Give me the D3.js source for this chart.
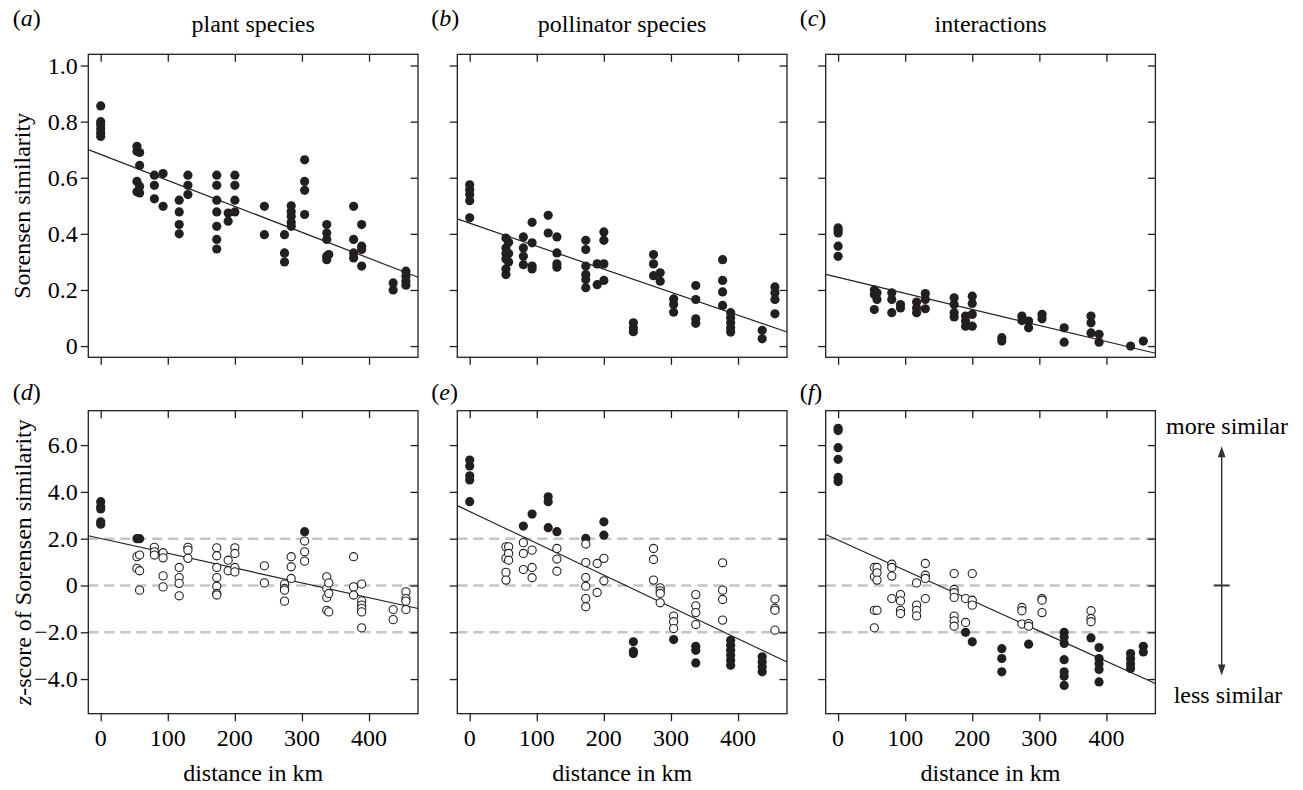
<!DOCTYPE html>
<html>
<head>
<meta charset="utf-8">
<script src="https://cdn.jsdelivr.net/npm/d3@7"></script>
<style>
body { margin: 0; background: #fff; }
</style>
</head>
<body>
<div class="chart"></div>
<script>
var width = 1303;
var height = 790;

// [distance in km, value]
var plantSim = [[0,0.856],[0,0.80],[0,0.79],[0,0.775],[0,0.76],[0,0.747],
	[54,0.712],[54,0.694],[54,0.587],[54,0.55],[58,0.69],[58,0.644],[58,0.569],[58,0.546],
	[80,0.609],[80,0.573],[80,0.525],[93,0.615],[93,0.498],
	[117,0.52],[117,0.478],[117,0.433],[117,0.40],[130,0.609],[130,0.573],[130,0.54],
	[173,0.609],[173,0.573],[173,0.52],[173,0.478],[173,0.427],[173,0.38],[173,0.346],
	[190,0.474],[190,0.445],[200,0.609],[200,0.573],[200,0.52],[200,0.478],
	[244,0.498],[244,0.397],[274,0.397],[274,0.332],[274,0.30],
	[284,0.50],[284,0.48],[284,0.463],[284,0.441],[284,0.427],
	[304,0.664],[304,0.587],[304,0.555],[304,0.469],
	[337,0.433],[337,0.403],[337,0.38],[337,0.32],[337,0.308],[340,0.326],
	[377,0.498],[377,0.38],[377,0.332],[377,0.314],[389,0.433],[389,0.356],[389,0.344],[389,0.285],
	[436,0.225],[436,0.20],[455,0.267],[455,0.249],[455,0.231],[455,0.217]];

var pollSim = [[0,0.575],[0,0.557],[0,0.54],[0,0.518],[0,0.457],
	[54,0.385],[54,0.35],[54,0.33],[54,0.31],[54,0.275],[54,0.255],[58,0.37],[58,0.33],[58,0.30],
	[80,0.389],[80,0.35],[80,0.32],[80,0.29],[93,0.441],[93,0.368],[93,0.285],[93,0.275],
	[117,0.466],[117,0.403],[130,0.389],[130,0.332],[130,0.293],[130,0.281],
	[173,0.377],[173,0.344],[173,0.285],[173,0.255],[173,0.237],[173,0.208],
	[190,0.293],[190,0.219],[200,0.407],[200,0.377],[200,0.293],[200,0.234],
	[244,0.083],[244,0.065],[244,0.051],[274,0.326],[274,0.293],[274,0.251],
	[284,0.261],[284,0.231],[304,0.168],[304,0.148],[304,0.121],
	[337,0.216],[337,0.166],[337,0.097],[337,0.081],
	[377,0.308],[377,0.234],[377,0.193],[377,0.145],
	[389,0.119],[389,0.101],[389,0.083],[389,0.065],[389,0.05],
	[436,0.056],[436,0.026],[455,0.211],[455,0.19],[455,0.166],[455,0.115]];

var interSim = [[0,0.421],[0,0.412],[0,0.403],[0,0.356],[0,0.32],
	[54,0.20],[54,0.184],[54,0.13],[58,0.19],[58,0.166],
	[80,0.19],[80,0.166],[80,0.119],[93,0.148],[93,0.136],
	[117,0.157],[117,0.136],[117,0.119],[130,0.187],[130,0.166],[130,0.133],
	[173,0.172],[173,0.148],[173,0.119],[173,0.104],
	[190,0.107],[190,0.089],[190,0.071],[200,0.178],[200,0.152],[200,0.113],[200,0.071],
	[244,0.03],[244,0.018],[274,0.107],[274,0.091],[284,0.089],[284,0.065],
	[304,0.113],[304,0.097],[337,0.065],[337,0.014],
	[377,0.107],[377,0.083],[377,0.047],[389,0.042],[389,0.014],
	[436,0.0],[455,0.018]];

var plantZ = [[0,3.58],[0,3.37],[0,3.27],[0,2.72],[0,2.62],
	[54,2.0],[54,1.23],[54,0.73],[58,2.0],[58,1.30],[58,0.63],[58,-0.2],
	[80,1.63],[80,1.44],[80,1.30],[93,1.40],[93,1.18],[93,0.41],[93,-0.06],
	[117,0.77],[117,0.34],[117,0.09],[117,-0.44],[130,1.63],[130,1.51],[130,1.16],
	[173,1.61],[173,1.27],[173,0.77],[173,0.34],[173,-0.03],[173,-0.34],[173,-0.41],
	[190,1.08],[190,0.63],[200,1.61],[200,1.37],[200,0.77],[200,0.58],
	[244,0.84],[244,0.11],[274,0.06],[274,-0.13],[274,-0.2],[274,-0.67],
	[284,1.23],[284,0.80],[284,0.30],[304,2.30],[304,1.90],[304,1.44],[304,1.04],
	[337,0.37],[337,-0.13],[337,-0.51],[337,-1.06],[340,0.11],[340,-0.34],[340,-1.13],
	[377,1.23],[377,-0.06],[377,-0.41],
	[389,0.06],[389,-0.66],[389,-0.84],[389,-0.98],[389,-1.13],[389,-1.81],
	[436,-1.03],[436,-1.46],[455,-0.27],[455,-0.56],[455,-0.67],[455,-1.03]];

var pollZ = [[0,5.36],[0,5.11],[0,4.69],[0,4.51],[0,3.58],
	[54,1.65],[54,1.16],[54,0.56],[54,0.23],[58,1.65],[58,1.37],[58,1.08],
	[80,2.54],[80,1.83],[80,1.37],[80,0.68],[93,3.05],[93,1.51],[93,0.77],[93,0.33],
	[117,3.79],[117,3.58],[117,2.47],[130,2.30],[130,1.58],[130,1.13],[130,0.61],
	[173,2.01],[173,1.77],[173,0.98],[173,0.34],[173,-0.03],[173,-0.56],[173,-0.91],
	[190,0.94],[190,-0.30],[200,2.72],[200,2.15],[200,1.16],[200,0.20],
	[244,-2.41],[244,-2.81],[244,-2.91],[274,1.58],[274,1.11],[274,0.23],
	[284,-0.10],[284,-0.23],[284,-0.34],[284,-0.74],
	[304,-1.31],[304,-1.55],[304,-1.84],[304,-2.31],
	[337,-0.39],[337,-0.87],[337,-1.16],[337,-1.67],[337,-2.60],[337,-2.77],[337,-3.31],
	[377,0.97],[377,-0.2],[377,-0.60],[377,-1.48],
	[389,-2.34],[389,-2.55],[389,-2.77],[389,-2.98],[389,-3.20],[389,-3.41],
	[436,-3.05],[436,-3.27],[436,-3.48],[436,-3.69],
	[455,-0.58],[455,-0.98],[455,-1.06],[455,-1.91]];

var interZ = [[0,6.72],[0,6.62],[0,5.89],[0,5.39],[0,4.62],[0,4.44],
	[54,0.77],[54,0.37],[54,-1.06],[54,-1.81],[58,0.77],[58,0.54],[58,0.23],[58,-1.06],
	[80,0.91],[80,0.77],[80,0.40],[80,-0.56],[93,-0.39],[93,-0.66],[93,-1.06],[93,-1.20],
	[117,0.11],[117,-0.84],[117,-1.06],[117,-1.30],[130,0.94],[130,0.44],[130,0.30],[130,-0.56],
	[173,0.51],[173,-0.17],[173,-0.31],[173,-0.51],[173,-1.31],[173,-1.51],[173,-1.74],
	[190,-0.56],[190,-1.58],[190,-2.0],[200,0.51],[200,-0.63],[200,-0.84],[200,-2.41],
	[244,-2.70],[244,-3.12],[244,-3.69],[274,-0.94],[274,-1.08],[274,-1.65],
	[284,-1.63],[284,-1.74],[284,-2.51],[304,-0.56],[304,-0.63],[304,-1.16],
	[337,-2.0],[337,-2.20],[337,-2.48],[337,-3.17],[337,-3.69],[337,-3.88],[337,-4.27],
	[377,-1.08],[377,-1.41],[377,-1.55],[377,-2.24],
	[389,-2.65],[389,-3.12],[389,-3.34],[389,-3.59],[389,-4.12],
	[436,-2.91],[436,-3.12],[436,-3.34],[436,-3.55],[455,-2.60],[455,-2.84]];

// regression lines: [intercept, slope per km]
var fits = [[0.683,-0.000925],[0.438,-0.00082],[0.245,-0.000572],
	[2.01,-0.00633],[3.16,-0.01359],[1.94,-0.01296]];

var panelData = [plantSim, pollSim, interSim, plantZ, pollZ, interZ];
var panelLetters = ["a", "b", "c", "d", "e", "f"];
var columnTitles = ["plant species", "pollinator species", "interactions"];
var xTicks = [0, 100, 200, 300, 400];
var simTicks = [0, 0.2, 0.4, 0.6, 0.8, 1.0];
var zTicks = [-4, -2, 0, 2, 4, 6];
var zRefLines = [-2, 0, 2];

var panelLefts = [88.3, 457.3, 825.7];
var panelWidth = 329.7;
var rowTops = [54.3, 410.7];
var rowHeight = 303;
var tickLen = 7.5;
var ink = "#231f20";
var fontName = "\"Liberation Serif\"";

var svg = d3.select(".chart").append("svg")
	.attr("width", width).attr("height", height);

// text layer goes first, same way the font test page did it
var textLayer = svg.append("g").attr("class", "texts");

function yFormat(d) {
	return d === 0 ? "0" : d3.format(".1f")(d);
}

function isFilled(row, v) {
	return row == 0 || Math.abs(v) >= 1.96;
}

function addText(x, y, str) {
	return textLayer.append("text")
		.attr("x", x).attr("y", y)
		.style("font-family", fontName)
		.attr("font-size", 24)
		.text(str);
}

function drawPanel(i) {
	var col = i % 3, row = Math.floor(i / 3);
	var left = panelLefts[col], top = rowTops[row];
	var x = d3.scaleLinear().domain([-18.5, 473]).range([left, left + panelWidth]);
	var y = d3.scaleLinear()
		.domain(row == 0 ? [-0.04, 1.04] : [-5.48, 7.47])
		.range([top + rowHeight, top]);

	// panel letter and titles
	var lab = addText(col == 0 ? 12.7 : left - 26, row == 0 ? 26 : 400, null);
	lab.append("tspan").text("(");
	lab.append("tspan").attr("font-style", "italic").text(panelLetters[i]);
	lab.append("tspan").text(")");
	if (row == 0) {
		addText(left + panelWidth / 2, 32, columnTitles[col]).attr("text-anchor", "middle");
	} else {
		addText(left + panelWidth / 2, 781, "distance in km").attr("text-anchor", "middle");
	}

	// tick labels as plain texts
	if (row == 1) {
		xTicks.forEach(function(t) {
			addText(x(t), top + rowHeight + tickLen + 24.5, d3.format("d")(t))
				.attr("text-anchor", "middle");
		});
	}
	if (col == 0) {
		var yt = row == 0 ? simTicks : zTicks;
		yt.forEach(function(t) {
			addText(left - tickLen - 3, y(t) + 8, yFormat(t))
				.attr("text-anchor", "end");
		});
	}

	var g = svg.append("g");

	// dashed reference lines in the z-score row
	if (row == 1) {
		g.selectAll(".ref").data(zRefLines).enter().append("line")
			.attr("x1", left).attr("x2", left + panelWidth)
			.attr("y1", y).attr("y2", y)
			.attr("stroke", "#c4c4c4").attr("stroke-width", 2.6)
			.attr("stroke-dasharray", "10,6");
	}

	var fit = fits[i];
	var xd = x.domain();
	g.append("line")
		.attr("x1", x(xd[0])).attr("y1", y(fit[0] + fit[1] * xd[0]))
		.attr("x2", x(xd[1])).attr("y2", y(fit[0] + fit[1] * xd[1]))
		.attr("stroke", ink).attr("stroke-width", 1.2);

	// filled = significant in the z-score row
	g.selectAll(".pt").data(panelData[i]).enter().append("circle")
		.attr("cx", function(d) { return x(d[0]); })
		.attr("cy", function(d) { return y(d[1]); })
		.attr("r", function(d) { return isFilled(row, d[1]) ? 4.6 : 4.1; })
		.attr("fill", function(d) { return isFilled(row, d[1]) ? ink : "#fff"; })
		.attr("stroke", ink)
		.attr("stroke-width", function(d) { return isFilled(row, d[1]) ? 0 : 1.1; });

	var yTicks = row == 0 ? simTicks : zTicks;
	var axes = [
		[d3.axisBottom(x).tickValues(xTicks).tickSize(tickLen), "translate(0," + (top + rowHeight) + ")"],
		[d3.axisTop(x).tickValues(xTicks).tickSize(-tickLen), "translate(0," + top + ")"],
		[d3.axisLeft(y).tickValues(yTicks).tickSize(tickLen), "translate(" + left + ",0)"],
		[d3.axisRight(y).tickValues(yTicks).tickSize(-tickLen), "translate(" + (left + panelWidth) + ",0)"]
	];
	axes.forEach(function(a) {
		var ax = g.append("g").attr("transform", a[1]).call(a[0].tickFormat(""));
		ax.select(".domain").remove();
		ax.selectAll("text").remove();
		ax.selectAll("line").attr("stroke", ink).attr("stroke-width", 1.3);
	});

	g.append("rect")
		.attr("x", left).attr("y", top)
		.attr("width", panelWidth).attr("height", rowHeight)
		.attr("fill", "none").attr("stroke", ink).attr("stroke-width", 1.3);
	return y;
}

var yScales = [];
for (var i = 0; i < 6; i++) {
	yScales.push(drawPanel(i));
}

// y axis titles
var simMid = rowTops[0] + rowHeight / 2;
addText(0, 0, "Sorensen similarity")
	.attr("transform", "translate(30," + simMid + ") rotate(-90)")
	.attr("text-anchor", "middle");

var zMid = rowTops[1] + rowHeight / 2;
var zt = addText(0, 0, null)
	.attr("transform", "translate(31," + zMid + ") rotate(-90)")
	.attr("text-anchor", "middle");
zt.append("tspan").attr("font-style", "italic").text("z");
zt.append("tspan").text("-score of Sorensen similarity");

// more / less similar arrow at the right
var yz = yScales[3];
var ax = 1221.7;
var arrowTop = yz(5.95), arrowBot = yz(-3.85);
svg.append("line")
	.attr("x1", ax).attr("x2", ax).attr("y1", arrowTop + 8).attr("y2", arrowBot - 8)
	.attr("stroke", "#333").attr("stroke-width", 1.4);
svg.append("path")
	.attr("d", "M" + ax + "," + arrowTop + "l-3.8,11l7.6,0z")
	.attr("fill", "#333");
svg.append("path")
	.attr("d", "M" + ax + "," + arrowBot + "l-3.8,-11l7.6,0z")
	.attr("fill", "#333");
svg.append("line")
	.attr("x1", ax - 8).attr("x2", ax + 8).attr("y1", yz(0)).attr("y2", yz(0))
	.attr("stroke", "#333").attr("stroke-width", 2);
addText(1227, 434, "more similar").attr("text-anchor", "middle");
addText(1228, 703, "less similar").attr("text-anchor", "middle");
</script>
</body>
</html>
